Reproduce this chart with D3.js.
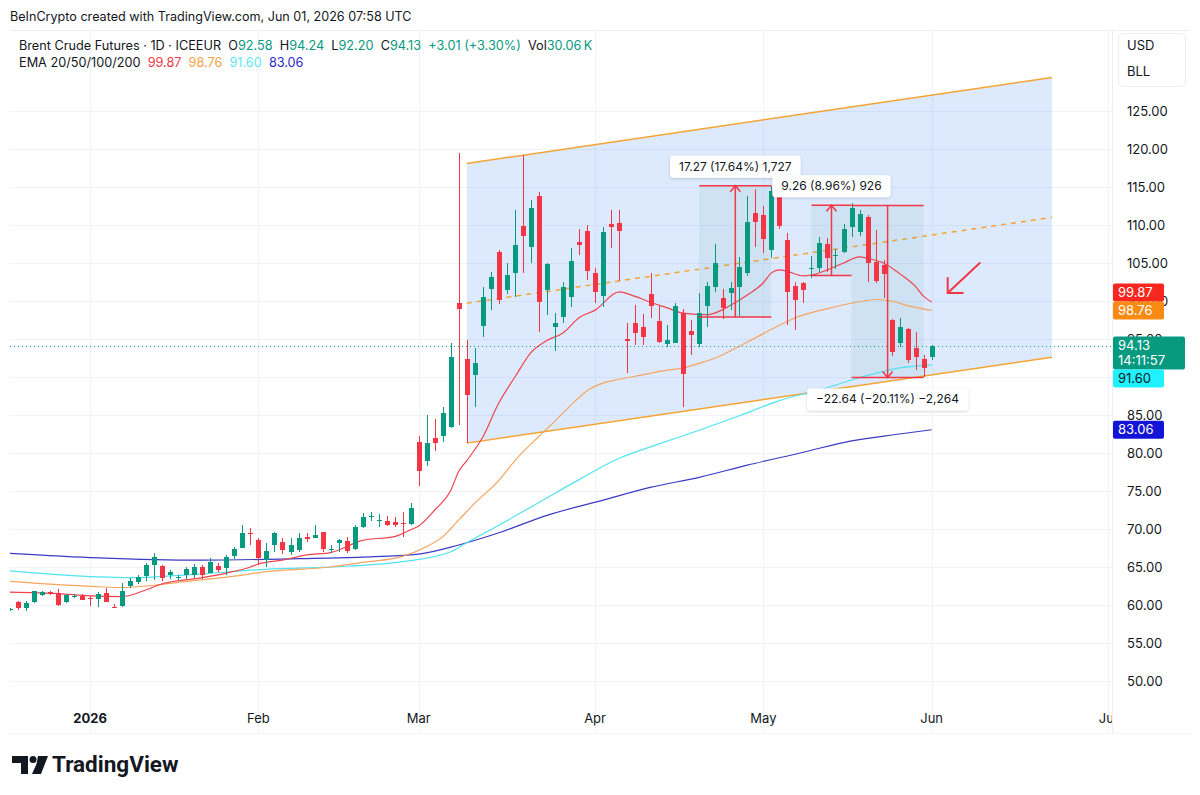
<!DOCTYPE html>
<html><head><meta charset="utf-8">
<script src="https://cdn.jsdelivr.net/npm/d3@7"></script>
<style>
body{margin:0;background:#fff;}
svg{display:block;font-family:Inter,"Noto Sans",sans-serif;}
</style></head><body>
<svg id="c" width="1200" height="795"></svg>
<script>
// ---------------- DATA ----------------
const firstDay = "2025-12-16";
const lastDay = "2026-07-10";
const holidays = ["2025-12-25","2025-12-26","2026-01-01","2026-04-03"];
const monthLabels = ["2026","Feb","Mar","Apr","May","Jun","Jul"];
const monthStarts = ["2026-01","2026-02","2026-03","2026-04","2026-05","2026-06","2026-07"];
const priceTicks = [50,55,60,65,70,75,80,85,90,95,100,105,110,115,120,125];

const opens  = [59.4,60.4,59.6,60.4,61.3,61.7,61.6,60.4,61.2,61.2,60.9,60.8,61.6,59.8,59.9,62.5,63.0,63.8,65.3,65.1,
  64.0,63.6,64.0,64.0,65.0,64.2,65.1,64.9,66.4,67.5,69.5,68.6,65.9,67.9,68.3,67.0,67.2,69.0,68.8,69.6,
  67.2,68.1,68.4,67.4,70.3,71.6,71.0,71.1,70.9,70.8,70.6,81.4,78.9,82.0,82.2,83.4,99.7,92.4,90.3,96.7,
  101.6,106.4,101.4,103.7,109.9,107.1,113.8,101.4,96.6,97.9,100.5,107.8,109.2,103.7,100.7,110.1,110.3,95.0,97.1,96.6,
  100.9,97.4,94.3,94.5,98.4,96.1,94.3,99.3,101.8,100.4,101.1,101.8,103.7,111.6,111.3,106.7,114.0,108.0,102.0,102.4,
  104.2,104.3,107.5,105.9,106.4,109.7,109.1,111.0,105.1,104.7,97.5,94.5,96.3,93.8,92.4,92.58];
const highs  = [59.6,60.5,60.5,61.9,61.9,61.9,62.1,61.5,61.5,61.4,61.2,61.7,62.2,60.1,62.9,63.6,64.0,65.5,66.8,65.2,
  64.6,64.0,65.0,65.4,65.3,66.2,65.5,66.6,67.6,70.5,70.1,68.8,68.2,69.6,68.8,68.8,69.5,69.5,70.5,69.6,
  67.9,68.7,69.0,70.5,72.1,72.2,72.0,71.7,71.6,72.2,73.4,82.2,85.0,84.5,86.1,94.5,119.5,94.9,93.8,101.8,
  103.8,106.7,105.0,112.0,119.2,113.3,114.3,105.0,98.4,102.5,107.0,109.5,110.0,104.3,109.7,112.0,112.0,97.1,99.5,98.3,
  103.7,99.3,96.8,99.7,98.9,97.5,101.1,102.5,107.5,101.6,102.5,105.8,113.8,114.7,112.5,115.1,114.5,109.0,102.5,102.5,
  105.9,108.4,108.3,106.8,110.1,112.9,112.0,111.3,109.3,105.4,97.6,97.8,96.4,95.9,92.9,94.24];
const lows   = [59.2,59.3,59.2,60.3,61.2,61.3,59.9,60.2,60.9,60.6,59.9,59.7,60.4,59.6,59.7,62.3,62.7,63.2,63.3,63.2,
  63.4,63.2,63.4,63.6,63.4,64.2,64.3,63.9,66.1,67.5,67.9,65.3,65.0,67.0,66.7,66.6,67.0,68.3,68.8,67.0,
  66.8,67.0,66.8,67.2,70.1,71.1,70.3,70.4,70.3,68.9,70.5,75.7,78.3,80.3,81.4,83.3,83.7,81.3,86.1,95.3,
  98.8,99.6,100.9,100.5,103.7,105.0,95.9,98.2,93.4,97.1,99.2,106.1,102.8,99.7,99.2,107.0,102.6,90.5,94.2,94.2,
  97.8,94.5,93.9,94.5,86.1,92.9,93.9,96.6,101.2,97.6,98.8,98.0,103.3,107.1,106.3,105.7,109.5,96.8,96.2,99.7,
  103.0,103.8,103.8,104.2,106.3,108.4,108.6,102.5,102.4,100.4,92.8,93.9,91.8,90.9,90.0,92.20];
const closes = [59.5,59.6,60.3,61.8,61.7,61.4,60.0,61.3,61.25,60.7,60.8,61.4,60.4,59.7,61.8,63.2,63.7,65.3,66.3,63.6,
  64.4,63.7,64.7,65.0,64.0,65.6,64.6,66.3,67.4,69.5,69.4,66.2,67.1,69.5,67.2,67.9,68.8,68.7,69.2,67.4,
  67.4,68.5,67.1,70.3,71.6,71.7,71.2,70.5,70.5,70.7,72.8,77.6,81.3,81.3,85.3,92.6,98.9,87.6,91.8,100.5,
  103.2,100.1,103.4,107.4,108.6,112.2,99.9,104.9,97.1,101.8,105.3,107.4,103.9,101.2,109.1,109.8,109.2,94.8,95.8,95.3,
  99.3,94.6,94.9,99.3,90.4,95.5,98.4,102.0,105.0,99.1,101.7,104.5,110.4,110.4,108.2,114.5,109.9,101.2,100.1,101.4,
  104.4,107.6,105.7,106.0,109.5,112.2,111.5,105.0,102.6,103.5,93.3,96.6,92.2,92.6,91.2,94.13];

// EMA readings: [bar index, value]
const ema20 = [[0,61.7],[6,61.5],[10,61.2],[14,61.1],[17,62.0],[19,62.8],[24,63.6],[27,64.2],[30,65.0],[31,65.4],[34,65.9],[37,66.6],[40,66.9],[44,68.5],[48,69.0],[50,69.9],[51,70.4],[53,72.5],[55,75.1],[56,77.6],[57,79.0],[59,82.1],[61,86.6],[63,90.0],[65,93.2],[67,94.8],[69,95.8],[71,97.8],[73,98.8],[76,101.2],[78,100.6],[80,99.8],[82,99.1],[84,98.4],[87,98.2],[89,98.9],[90,99.5],[92,100.8],[94,102.4],[95,103.7],[96,104.1],[97,103.9],[99,103.3],[100,103.4],[102,104.1],[104,105.0],[106,105.8],[107,105.6],[109,105.0],[111,103.6],[113,101.9],[114,100.6],[115,99.87]];
const ema50 = [[0,63.1],[11,62.4],[14,62.3],[18,62.6],[22,63.1],[28,63.8],[32,64.4],[40,65.0],[44,65.6],[49,66.4],[52,67.7],[54,69.0],[56,71.2],[58,73.4],[61,76.4],[63,79.0],[66,82.2],[68,84.2],[70,86.3],[72,88.2],[74,89.2],[76,89.7],[78,90.1],[82,90.9],[84,91.2],[86,91.8],[88,92.5],[92,94.6],[96,96.8],[98,97.8],[102,99.0],[106,99.9],[108,100.2],[110,100.0],[112,99.4],[115,98.76]];
const ema100 = [[0,64.5],[11,63.7],[15,63.6],[24,64.1],[32,64.7],[40,65.0],[49,65.7],[55,67.0],[57,68.2],[61,70.5],[66,73.5],[71,76.5],[76,79.3],[81,81.2],[86,83.0],[91,84.9],[96,86.9],[101,88.3],[106,89.9],[111,91.2],[115,91.60]];
const ema200 = [[0,66.8],[11,66.2],[24,65.9],[36,66.1],[44,66.3],[51,66.7],[56,67.9],[61,69.5],[67,71.8],[74,73.8],[80,75.5],[86,76.8],[92,78.4],[99,80.1],[105,81.6],[111,82.5],[115,83.06]];

// parallel channel anchors
const channelBars = [57, 130];
const channelUpper = [118.1, 129.4];
const channelLower = [81.3, 92.6];

// price range measurements
const rangeBars = [[86,95],[100,105],[105,114]];
const rangePrices = [[97.90,115.17],[103.35,112.61],[112.58,89.94]];
const rangeLabels = ["17.27 (17.64%) 1,727","9.26 (8.96%) 926","\u221222.64 (\u221220.11%) \u22122,264"];

// hand-drawn arrow [bar, price]
const arrowPts = [[121,105.0],[117,101.05]];

const lastPrice = 94.13;
const emaLast = [99.87, 98.76, 91.60, 83.06];

// ---------------- SETUP ----------------
const fmt = d3.utcFormat("%Y-%m-%d");
const days = d3.utcDay.range(new Date(firstDay+"T00:00:00Z"), new Date(lastDay+"T00:00:00Z"))
  .filter(d => d.getUTCDay()!==0 && d.getUTCDay()!==6 && !holidays.includes(fmt(d)))
  .map(fmt);

const svg = d3.select("#c");
const P = {l:10, r:1112, t:30, b:733};
const x = d3.scaleLinear().domain([0,137.5]).range([P.l, P.r]);
const y = d3.scaleLinear().domain([50,125]).range([681,111]);

const C = {up:"#089981", down:"#f23645", text:"#131722", grid:"#f0f3fa",
  e20:"#f0434d", e50:"#f7a45c", e100:"#4fe3f2", e200:"#3a3ac4", chan:"#f5a431"};

const defs = svg.append("defs");
defs.append("clipPath").attr("id","plotclip").append("rect")
  .attr("x",P.l).attr("y",P.t).attr("width",P.r-P.l).attr("height",P.b-P.t);
const f = defs.append("filter").attr("id","sh").attr("x","-20%").attr("y","-40%").attr("width","140%").attr("height","180%");
f.append("feDropShadow").attr("dx",0).attr("dy",1).attr("stdDeviation",1.5).attr("flood-color","#000").attr("flood-opacity",0.18);

// top title
svg.append("text").attr("x",10).attr("y",21).attr("font-size",12.6).attr("fill",C.text)
  .text("BeInCrypto created with TradingView.com, Jun 01, 2026 07:58 UTC");

// frame
svg.append("line").attr("x1",P.l).attr("x2",1190).attr("y1",P.t+0.5).attr("y2",P.t+0.5).attr("stroke","#eceef2");
svg.append("line").attr("x1",P.r+0.5).attr("x2",P.r+0.5).attr("y1",P.t).attr("y2",P.b).attr("stroke","#eceef2");
svg.append("line").attr("x1",P.l).attr("x2",1190).attr("y1",P.b+0.5).attr("y2",P.b+0.5).attr("stroke","#f3f4f7");

// gridlines
const monthIdx = monthStarts.map(m => days.findIndex(d => d.startsWith(m)));
const g = svg.append("g").attr("clip-path","url(#plotclip)");
g.selectAll(".hg").data(priceTicks).join("line")
  .attr("x1",P.l).attr("x2",P.r).attr("y1",d=>Math.round(y(d))+0.5).attr("y2",d=>Math.round(y(d))+0.5)
  .attr("stroke",C.grid);
g.selectAll(".vg").data(monthIdx).join("line")
  .attr("x1",d=>Math.round(x(d))+0.5).attr("x2",d=>Math.round(x(d))+0.5).attr("y1",P.t).attr("y2",P.b)
  .attr("stroke",C.grid);

// channel
const chPoly = [[channelBars[0],channelUpper[0]],[channelBars[1],channelUpper[1]],[channelBars[1],channelLower[1]],[channelBars[0],channelLower[0]]];
g.append("path").attr("d","M"+chPoly.map(p=>[x(p[0]),y(p[1])].join(",")).join("L")+"Z")
  .attr("fill","rgba(41,120,240,0.16)");
const lineXY = d3.line().x(d=>x(d[0])).y(d=>y(d[1]));
g.append("path").attr("d",lineXY(channelBars.map((b,i)=>[b,channelUpper[i]]))).attr("stroke",C.chan).attr("stroke-width",1.5).attr("fill","none");
g.append("path").attr("d",lineXY(channelBars.map((b,i)=>[b,channelLower[i]]))).attr("stroke",C.chan).attr("stroke-width",1.5).attr("fill","none");
g.append("path").attr("d",lineXY(channelBars.map((b,i)=>[b,(channelUpper[i]+channelLower[i])/2]))).attr("stroke",C.chan).attr("stroke-width",1.5).attr("stroke-dasharray","5,5").attr("fill","none");

// measurement fills
rangeBars.forEach((b,i)=>{
  const p = rangePrices[i];
  g.append("rect").attr("x",x(b[0])).attr("width",x(b[1])-x(b[0]))
    .attr("y",y(Math.max(p[0],p[1]))).attr("height",Math.abs(y(p[0])-y(p[1])))
    .attr("fill","rgba(60,160,140,0.09)");
});

// EMA lines
const emaLine = d3.line().x(d=>x(d[0])).y(d=>y(d[1])).curve(d3.curveMonotoneX);
[[ema200,C.e200],[ema100,C.e100],[ema50,C.e50],[ema20,C.e20]].forEach(([d,c])=>{
  g.append("path").attr("d",emaLine(d)).attr("fill","none").attr("stroke",c).attr("stroke-width",1.2);
});

// current price line
g.append("line").attr("x1",P.l).attr("x2",P.r).attr("y1",Math.round(y(lastPrice))+0.5).attr("y2",Math.round(y(lastPrice))+0.5)
  .attr("stroke",C.up).attr("stroke-dasharray","1,3").attr("stroke-width",1);

// candles
const idx = d3.range(closes.length);
const cg = g.append("g").attr("shape-rendering","crispEdges");
cg.selectAll(".w").data(idx).join("line")
  .attr("x1",i=>Math.round(x(i))+0.5).attr("x2",i=>Math.round(x(i))+0.5)
  .attr("y1",i=>y(highs[i])).attr("y2",i=>y(lows[i]))
  .attr("stroke",i=>closes[i]>=opens[i]?C.up:C.down);
cg.selectAll(".b").data(idx).join("rect")
  .attr("x",i=>Math.round(x(i))-2).attr("width",5)
  .attr("y",i=>y(Math.max(opens[i],closes[i])))
  .attr("height",i=>Math.max(1,Math.abs(y(opens[i])-y(closes[i]))))
  .attr("fill",i=>closes[i]>=opens[i]?C.up:C.down);

// measurement lines and arrows
const red = "#f23645";
rangeBars.forEach((b,i)=>{
  const p = rangePrices[i];
  const x0=x(b[0]), x1=x(b[1]), xm=(x0+x1)/2, ys=y(p[0]), ye=y(p[1]);
  const mg = g.append("g").attr("stroke",red).attr("stroke-width",1.5).attr("fill","none");
  mg.append("line").attr("x1",x0).attr("x2",x1).attr("y1",ys).attr("y2",ys);
  mg.append("line").attr("x1",x0).attr("x2",x1).attr("y1",ye).attr("y2",ye);
  mg.append("line").attr("x1",xm).attr("x2",xm).attr("y1",ys).attr("y2",ye);
  const dir = ye<ys ? 1 : -1;
  mg.append("path").attr("d",`M${xm-5},${ye+dir*6}L${xm},${ye}L${xm+5},${ye+dir*6}`);
});
// arrow
const ag = g.append("g").attr("stroke",red).attr("stroke-width",2).attr("fill","none").attr("stroke-linecap","round");
const [a0,a1] = arrowPts;
ag.append("line").attr("x1",x(a0[0])).attr("y1",y(a0[1])).attr("x2",x(a1[0])).attr("y2",y(a1[1]));
ag.append("path").attr("d",`M${x(a1[0])},${y(a1[1])-15}L${x(a1[0])},${y(a1[1])}L${x(a1[0])+15},${y(a1[1])}`);

// measurement labels
rangeBars.forEach((b,i)=>{
  const p = rangePrices[i];
  const xm = (x(b[0])+x(b[1]))/2;
  const up = p[1]>p[0];
  const lg = svg.append("g");
  const t = lg.append("text").attr("x",xm).attr("text-anchor","middle").attr("font-size",12).attr("fill",C.text).text(rangeLabels[i]);
  const bw = t.node().getComputedTextLength()+18, bh=22;
  const by = up ? y(p[1]) - 8 - bh : y(p[1]) + 11;
  lg.insert("rect","text").attr("x",xm-bw/2).attr("y",by).attr("width",bw).attr("height",bh).attr("rx",3)
    .attr("fill","#fff").attr("filter","url(#sh)");
  t.attr("y",by+15);
});

// legend
const l1 = svg.append("text").attr("x",19).attr("y",50).attr("font-size",12.7).attr("fill",C.text).style("white-space","pre");
const legendParts = [["Brent Crude Futures \u00b7 1D \u00b7 ICEEUR",C.text],["  O",C.text],["92.58",C.up],["  H",C.text],["94.24",C.up],["  L",C.text],["92.20",C.up],["  C",C.text],["94.13",C.up],["  +3.01 (+3.30%)",C.up],["  Vol",C.text],["30.06\u2009K",C.up]];
legendParts.forEach(([s,c])=>l1.append("tspan").attr("fill",c).text(s));
const l2 = svg.append("text").attr("x",19).attr("y",67).attr("font-size",12.7).attr("fill",C.text).style("white-space","pre");
l2.append("tspan").text("EMA 20/50/100/200 ");
const emaTxtCol = ["#f23645","#f7a24a","#5ee6f5","#2a2acb"];
emaLast.forEach((v,i)=>l2.append("tspan").attr("fill",emaTxtCol[i]).text(" "+v.toFixed(2)+" "));

// right axis
svg.append("rect").attr("x",1118.5).attr("y",33.5).attr("width",67).attr("height",53).attr("rx",4).attr("fill","#fff").attr("stroke","#eceef2");
svg.append("text").attr("x",1127).attr("y",50).attr("font-size",13).attr("fill",C.text).text("USD");
svg.append("text").attr("x",1127).attr("y",76).attr("font-size",13).attr("fill",C.text).text("BLL");
svg.selectAll(".pt").data(priceTicks).join("text")
  .attr("x",1127).attr("y",d=>y(d)+4.5).attr("font-size",13).attr("fill",C.text).text(d=>d.toFixed(2));

// price tags with overlap resolution
const tagDefs = [
  {v:lastPrice, col:C.up, tc:"#fff", lines:[lastPrice.toFixed(2),"14:11:57"], w:72},
  {v:emaLast[0], col:"#f7261f", tc:"#fff", lines:[emaLast[0].toFixed(2)], w:51},
  {v:emaLast[1], col:"#f98b15", tc:"#fff", lines:[emaLast[1].toFixed(2)], w:51},
  {v:emaLast[2], col:"#1ff1ff", tc:"#131722", lines:[emaLast[2].toFixed(2)], w:51},
  {v:emaLast[3], col:"#1414d6", tc:"#fff", lines:[emaLast[3].toFixed(2)], w:51}
];
tagDefs.forEach(t=>{ t.h = t.lines.length===2 ? 33 : 18; t.top = y(t.v)-9; });
const order = tagDefs.slice().sort((a,b)=>Math.abs(a.v-lastPrice)-Math.abs(b.v-lastPrice));
const placed = [];
order.forEach(t=>{
  let moved=true, guard=0;
  while(moved && guard++<10){
    moved=false;
    placed.forEach(p=>{
      if (t.top < p.top+p.h && t.top+t.h > p.top){
        if (t.v < p.v) t.top = p.top+p.h; else t.top = p.top - t.h;
        moved=true;
      }
    });
  }
  placed.push(t);
});
tagDefs.forEach(t=>{
  svg.append("rect").attr("x",1113).attr("y",t.top).attr("width",t.w).attr("height",t.h).attr("rx",2).attr("fill",t.col);
  t.lines.forEach((s,j)=>svg.append("text").attr("x",1118).attr("y",t.top+13.5+j*15).attr("font-size",13).attr("fill",t.tc).text(s));
});

// time axis
const ta = svg.append("g");
ta.append("clipPath").attr("id","tclip").append("rect").attr("x",P.l).attr("y",P.b-40).attr("width",P.r-P.l).attr("height",45);
ta.append("g").attr("clip-path","url(#tclip)").selectAll("text").data(monthIdx).join("text")
  .attr("x",d=>x(d)).attr("y",723).attr("text-anchor","middle").attr("font-size",13)
  .attr("font-weight",(d,i)=>i===0?700:400).attr("fill",C.text).text((d,i)=>monthLabels[i]);

// TradingView watermark
const wm = svg.append("g").attr("fill","#131722");
wm.append("path").attr("d","M12,756H28V774H21V763H12Z");
wm.append("circle").attr("cx",33).attr("cy",759.5).attr("r",3.5);
wm.append("path").attr("d","M38,756H48L41,774H32L36.5,764Z");
wm.append("text").attr("x",52).attr("y",772).attr("font-size",22.5).attr("font-weight",700).attr("font-family","Roboto, Inter, sans-serif").text("TradingView");
</script>
</body></html>
